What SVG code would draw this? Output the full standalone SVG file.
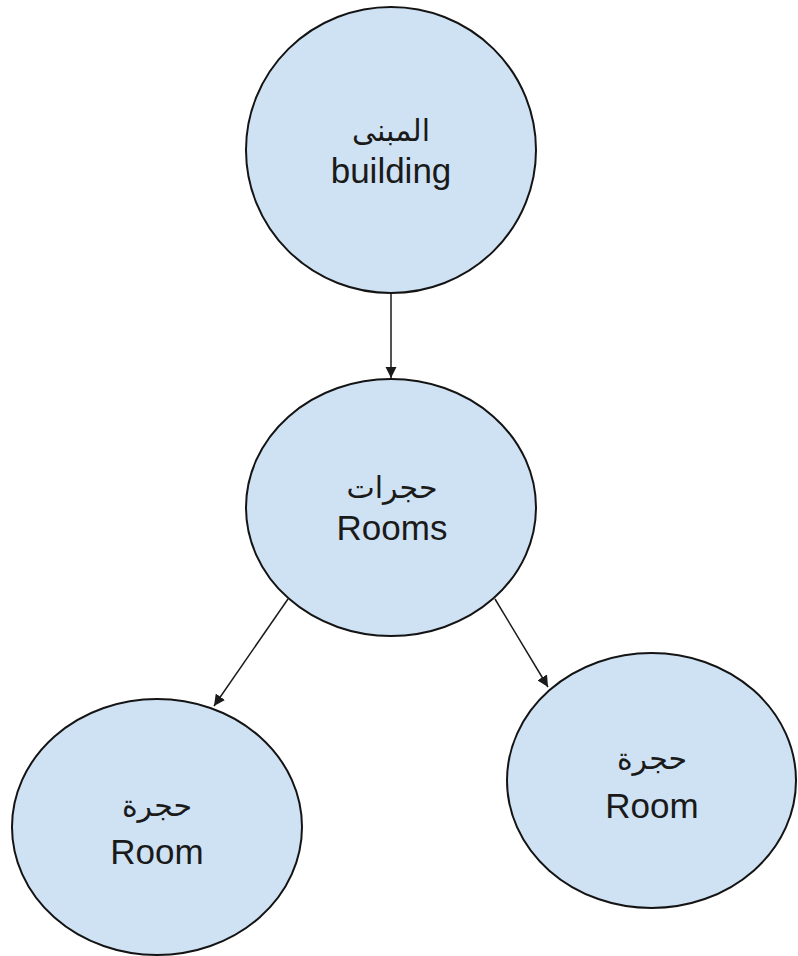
<svg xmlns="http://www.w3.org/2000/svg" width="798" height="956" viewBox="0 0 798 956">
  <style>
    .node { fill: #cfe2f3; stroke: #141414; stroke-width: 2; }
    .lbl { font-family: "Liberation Sans", "DejaVu Sans", sans-serif; font-size: 35px; fill: #1a1a1a; text-anchor: middle; }
    .ar { font-family: "DejaVu Sans", "Liberation Sans", sans-serif; font-size: 30px; fill: #1a1a1a; text-anchor: middle; }
    .edge { stroke: #1a1a1a; stroke-width: 1.5; fill: none; marker-end: url(#arrow); }
  </style>
  <defs>
    <marker id="arrow" viewBox="0 0 10 10" refX="10" refY="5" markerWidth="7.5" markerHeight="7.5" markerUnits="strokeWidth" orient="auto">
      <path d="M0,0 L10,5 L0,10 Z" fill="#1a1a1a"/>
    </marker>
  </defs>
  <rect width="798" height="956" fill="#ffffff"/>

  <g id="connectors">
    <line class="edge" x1="391" y1="293" x2="391" y2="378"/>
    <line class="edge" x1="288" y1="599" x2="214" y2="706"/>
    <line class="edge" x1="495" y1="599" x2="548" y2="687"/>
  </g>

  <g id="building">
    <ellipse class="node" cx="391" cy="150" rx="145" ry="143"/>
    <text class="ar" x="391" y="141" direction="rtl">المبنى</text>
    <text class="lbl" x="391" y="183">building</text>
  </g>

  <g id="rooms">
    <ellipse class="node" cx="391" cy="507.5" rx="145" ry="128.5"/>
    <text class="ar" x="392" y="498" direction="rtl">حجرات</text>
    <text class="lbl" x="392" y="540">Rooms</text>
  </g>

  <g id="room-left">
    <ellipse class="node" cx="157" cy="827" rx="145" ry="128"/>
    <text class="ar" x="157" y="816" direction="rtl">حجرة</text>
    <text class="lbl" x="157" y="864">Room</text>
  </g>

  <g id="room-right">
    <ellipse class="node" cx="651.5" cy="780.5" rx="144.5" ry="127.5"/>
    <text class="ar" x="652" y="769" direction="rtl">حجرة</text>
    <text class="lbl" x="652" y="818">Room</text>
  </g>
</svg>
